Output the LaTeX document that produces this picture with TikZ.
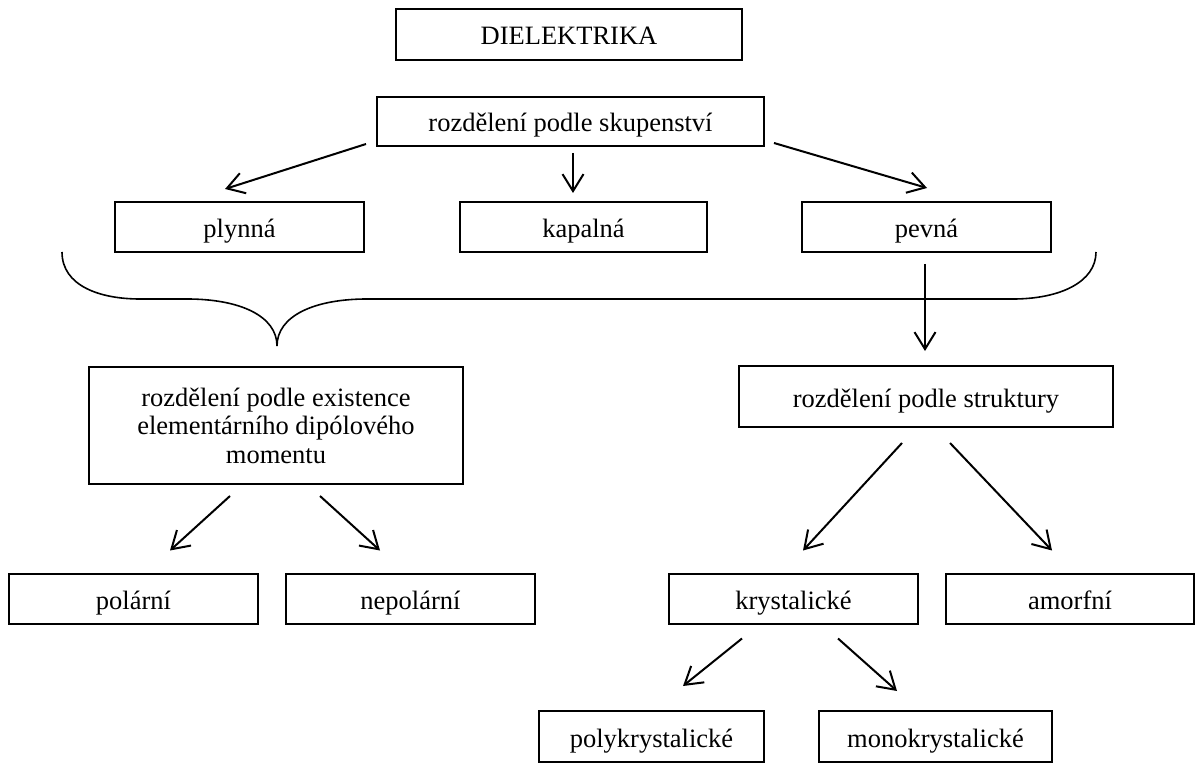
\documentclass[tikz,border=0pt]{standalone}
\usepackage{fontspec}
\setmainfont{Liberation Serif}
\usetikzlibrary{arrows.meta}

\begin{document}
\begin{tikzpicture}[x = 1pt, y = 1pt, line width = 2pt,
	>={Straight Barb[length=17pt,width=21pt,line width=2pt]},
	box/.style = {draw, rectangle, inner sep = 0pt, minimum width = 249, minimum height = 50,
		font = \fontsize{26.5}{28}\selectfont, text height = 25pt, text depth = 4pt},
	bigbox/.style = {draw, rectangle, inner sep = 0pt, font = \fontsize{26.5}{28.5}\selectfont, align = center}]
			\useasboundingbox (0,0) rectangle (1198,764);
			% top
			\node[box, minimum width = 346, minimum height = 51] (diel) at (569,729.5) {DIELEKTRIKA};
			\node[box, minimum width = 387, minimum height = 49] (skup) at (570.5,642.5) {rozdělení podle skupenství};
			% skupenstvi
			\node[box] (plyn) at (239.5,537) {plynná};
			\node[box, minimum width = 247] (kapal) at (583.5,537) {kapalná};
			\node[box] (pevna) at (926.5,537) {pevná};
			\draw [->] ([shift={(-10,3)}]skup.south west) -- ([shift={(-14.5,12)}]plyn.north);
			\draw [->] ([shift={(2.5,-6)}]skup.south) -- ([shift={(-10.5,8)}]kapal.north);
			\draw [->] ([shift={(9,4)}]skup.south east) -- ([shift={(0.5,13)}]pevna.north);
			% slozena zavorka
			\draw [line width = 1.6pt] (62,512) .. controls (62,478) and (100,465) .. (140,465) -- (187,465)
				.. controls (240,465) and (277,448) .. (277,418)
				.. controls (277,448) and (314,465) .. (367,465) -- (1013,465)
				.. controls (1060,465) and (1096,482) .. (1096,512);
			% druha uroven
			\node[bigbox, minimum width = 374, minimum height = 117] (exist) at (276,338.5)
				{rozdělení podle existence\\elementárního dipólového\\momentu};
			\node[box, minimum width = 374, minimum height = 61] (strukt) at (926,367.5) {rozdělení podle struktury};
			\draw [->] ([shift={(-1.5,-11)}]pevna.south) -- ([shift={(-1,14)}]strukt.north);
			% dipolovy moment
			\node[box] (polar) at (133.5,165.5) {polární};
			\node[box] (nepol) at (410.5,165.5) {nepolární};
			\draw [->] ([shift={(-46,-11)}]exist.south) -- ([shift={(36.5,22)}]polar.north);
			\draw [->] ([shift={(44,-11)}]exist.south) -- ([shift={(-30.5,22)}]nepol.north);
			% struktura
			\node[box] (kryst) at (793.5,165.5) {krystalické};
			\node[box, minimum width = 248] (amorf) at (1070,165.5) {amorfní};
			\draw [->] ([shift={(-24,-15)}]strukt.south) -- ([shift={(9.5,22)}]kryst.north);
			\draw [->] ([shift={(24,-15)}]strukt.south) -- ([shift={(-18,22)}]amorf.north);
			\node[box, minimum width = 225, minimum height = 51] (poly) at (651.5,27.5) {polykrystalické};
			\node[box, minimum width = 233, minimum height = 51] (mono) at (935.5,27.5) {monokrystalické};
			\draw [->] ([shift={(-51.5,-14)}]kryst.south) -- ([shift={(31.5,24)}]poly.north);
			\draw [->] ([shift={(44.5,-14)}]kryst.south) -- ([shift={(-38.5,19)}]mono.north);
\end{tikzpicture}
\end{document}
